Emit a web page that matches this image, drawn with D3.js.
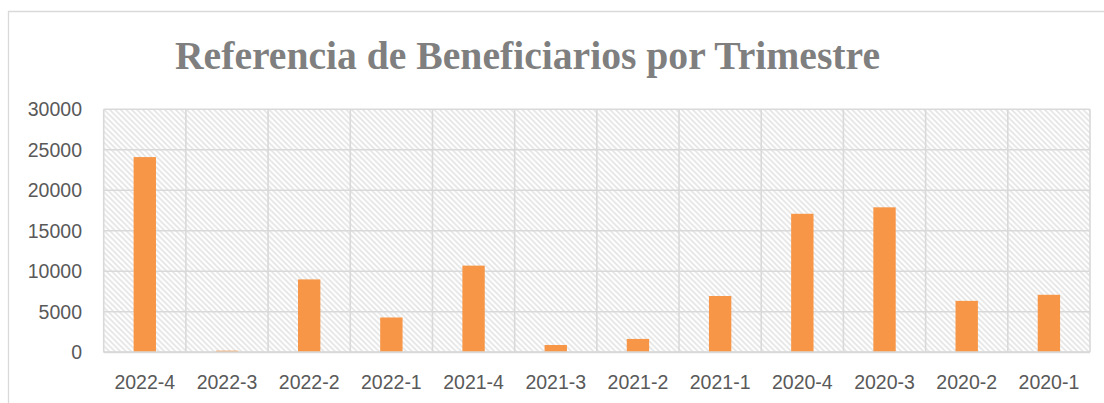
<!DOCTYPE html>
<html><head><meta charset="utf-8">
<script src="https://cdn.jsdelivr.net/npm/d3@7"></script>
<style>body{margin:0;background:#fff;} svg{display:block;}</style>
</head><body>
<svg id="c" width="1104" height="403"></svg>
<script>
const categories = ["2022-4","2022-3","2022-2","2022-1","2021-4","2021-3","2021-2","2021-1","2020-4","2020-3","2020-2","2020-1"];
const values = [24100, 200, 9000, 4300, 10700, 900, 1650, 6950, 17100, 17900, 6350, 7100];
const yTicks = [0, 5000, 10000, 15000, 20000, 25000, 30000];
const title = "Referencia de Beneficiarios por Trimestre";

const svg = d3.select("#c");
const m = {left: 103.7, right: 1090, top: 109.3, bottom: 352.3};

// outer chart border (cropped on right/bottom)
svg.append("path").attr("d", "M8.5,403 L8.5,11.5 L1104,11.5")
  .attr("fill","none").attr("stroke","#d9d9d9").attr("stroke-width",1.3);

const defs = svg.append("defs");
const pat = defs.append("pattern").attr("id","hatch").attr("patternUnits","userSpaceOnUse")
  .attr("width",5.5).attr("height",5.5);
pat.append("rect").attr("width",5.5).attr("height",5.5).attr("fill","#fff");
pat.append("path").attr("d","M-1,-1 L6.5,6.5 M-1,4.5 L1,6.5 M4.5,-1 L6.5,1")
  .attr("stroke","#e3e3e3").attr("stroke-width",1.6);

const x = d3.scaleBand().domain(categories).range([m.left, m.right]).paddingInner(0).paddingOuter(0);
const y = d3.scaleLinear().domain([0, 30000]).range([m.bottom, m.top]);

svg.append("rect").attr("x",m.left).attr("y",m.top).attr("width",m.right-m.left).attr("height",m.bottom-m.top)
  .attr("fill","url(#hatch)");

// horizontal grid
svg.append("g").selectAll("line").data(yTicks).join("line")
  .attr("x1",m.left).attr("x2",m.right).attr("y1",d=>y(d)).attr("y2",d=>y(d))
  .attr("stroke","#d9d9d9").attr("stroke-width",1.6);
// vertical grid at category boundaries
const bounds = categories.map(c=>x(c)).concat([m.right]);
svg.append("g").selectAll("line").data(bounds).join("line")
  .attr("x1",d=>d).attr("x2",d=>d).attr("y1",m.top).attr("y2",m.bottom)
  .attr("stroke","#d9d9d9").attr("stroke-width",1.6);

// bars
const bw = x.bandwidth()*0.272;
svg.append("g").selectAll("rect").data(values).join("rect")
  .attr("x",(d,i)=>x(categories[i])+x.bandwidth()/2-bw/2)
  .attr("width",bw)
  .attr("y",d=>y(d)).attr("height",d=>y(0)-y(d))
  .attr("fill","#f79646");

// baseline
svg.append("line").attr("x1",m.left).attr("x2",m.right).attr("y1",y(0)).attr("y2",y(0))
  .attr("stroke","#d9d9d9").attr("stroke-width",2);

// y axis labels
svg.append("g").selectAll("text").data(yTicks).join("text")
  .attr("x",82).attr("y",d=>y(d)).attr("dy","0.36em").attr("text-anchor","end")
  .attr("font-family","Liberation Sans, Arial, sans-serif").attr("font-size",19.5)
  .attr("fill","#595959").text(d=>d);

// x axis labels
svg.append("g").selectAll("text").data(categories).join("text")
  .attr("x",d=>x(d)+x.bandwidth()/2).attr("y",389).attr("text-anchor","middle")
  .attr("font-family","Liberation Sans, Arial, sans-serif").attr("font-size",19.5)
  .attr("fill","#595959").text(d=>d);

// title
svg.append("text").attr("x",175).attr("y",69)
  .attr("font-family","Liberation Serif, Times New Roman, serif").attr("font-weight","bold")
  .attr("font-size",41).attr("fill","#7f7f7f")
  .attr("textLength",705).attr("lengthAdjust","spacingAndGlyphs")
  .text(title);
</script>
</body></html>
